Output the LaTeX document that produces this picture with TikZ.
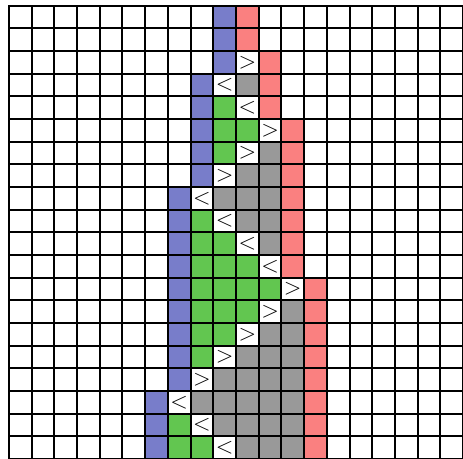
\documentclass[tikz,border=0pt]{standalone}
\definecolor{cblue}{RGB}{120,125,202}
\definecolor{cred}{RGB}{250,128,128}
\definecolor{cgreen}{RGB}{98,198,80}
\definecolor{cgray}{RGB}{153,153,153}
\tikzset{
  cell/.style={draw=black, line width=1.5pt, minimum size=17.025pt, inner sep=0pt, outer sep=0pt, font=\fontsize{17}{17}\selectfont},
}
\begin{document}
\begin{tikzpicture}[x=17.025pt, y=-17.0pt]
\useasboundingbox (-0.396,-0.251) rectangle (20.0,19.97);
\foreach \Rr/\Rb/\Rs/\Rt/\Re in {
  0/9/-1/{}/10, 1/9/-1/{}/10, 2/9/10/>/11, 3/8/9/</11, 4/8/10/</11,
  5/8/11/>/12, 6/8/10/>/12, 7/8/9/>/12, 8/7/8/</12, 9/7/9/</12,
  10/7/10/</12, 11/7/11/</12, 12/7/12/>/13, 13/7/11/>/13, 14/7/10/>/13,
  15/7/9/>/13, 16/7/8/>/13, 17/6/7/</13, 18/6/8/</13, 19/6/9/</13} {
  \foreach \Cc in {0,...,19} {
    \def\Ff{white}%
    \ifnum\Cc=\Rb\relax \def\Ff{cblue}\fi
    \ifnum\Cc=\Re\relax \def\Ff{cred}\fi
    \ifnum\Cc>\Rb\relax \ifnum\Cc<\Rs\relax \def\Ff{cgreen}\fi\fi
    \ifnum\Rs>-1\relax \ifnum\Cc>\Rs\relax \ifnum\Cc<\Re\relax \def\Ff{cgray}\fi\fi\fi
    \node[cell, fill=\Ff] (n-\Rr-\Cc) at (\Cc+0.5,\Rr+0.5) {\ifnum\Cc=\Rs\relax $\Rt$\fi};
  }
}
\end{tikzpicture}
\end{document}
